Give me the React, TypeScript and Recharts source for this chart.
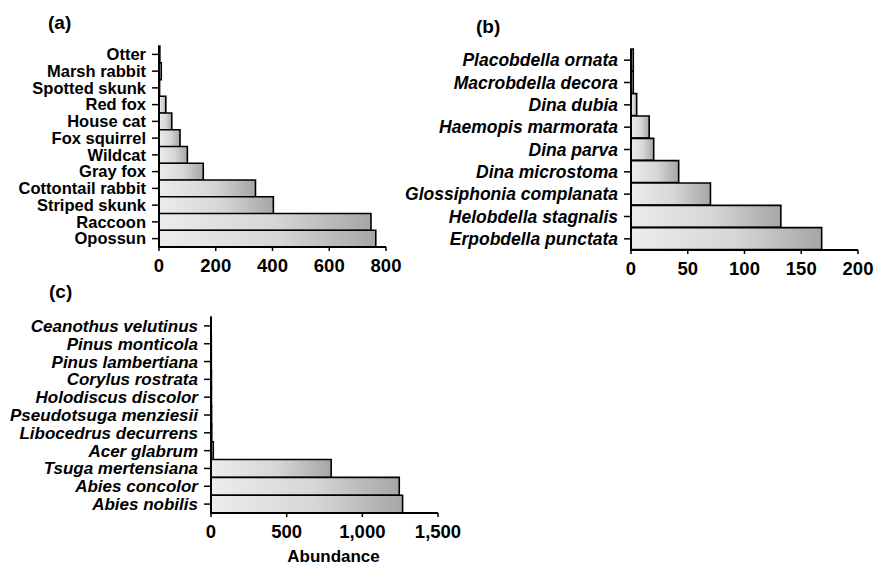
import { BarChart, Bar, XAxis, YAxis } from 'recharts';

// (a) mammals
const mammals = ['Otter', 'Marsh rabbit', 'Spotted skunk', 'Red fox', 'House cat', 'Fox squirrel', 'Wildcat', 'Gray fox', 'Cottontail rabbit', 'Striped skunk', 'Raccoon', 'Opossun'];
const mammalCounts = [3, 8, 2, 24, 45, 74, 100, 156, 340, 403, 747, 764];
const mammalTicks = [0, 200, 400, 600, 800];

// (b) leeches
const leeches = ['Placobdella ornata', 'Macrobdella decora', 'Dina dubia', 'Haemopis marmorata', 'Dina parva', 'Dina microstoma', 'Glossiphonia complanata', 'Helobdella stagnalis', 'Erpobdella punctata'];
const leechCounts = [2, 2, 5, 16, 20, 42, 70, 132, 168];
const leechTicks = [0, 50, 100, 150, 200];

// (c) trees
const trees = ['Ceanothus velutinus', 'Pinus monticola', 'Pinus lambertiana', 'Corylus rostrata', 'Holodiscus discolor', 'Pseudotsuga menziesii', 'Libocedrus decurrens', 'Acer glabrum', 'Tsuga mertensiana', 'Abies concolor', 'Abies nobilis'];
const treeCounts = [1, 2, 2, 3, 3, 4, 5, 15, 794, 1244, 1266];
const treeTicks = [0, 500, 1000, 1500];

const FONT = '"Liberation Sans", Arial, sans-serif';

const toRows = (names: string[], values: number[]) => names.map((name, i) => ({ name, value: values[i] }));

interface PanelProps {
  names: string[];
  values: number[];
  ticks: number[];
  left: number;
  top: number;
  width: number;
  height: number;
  axisWidth: number;
  margin: { top: number; right: number; bottom: number; left: number };
  italic?: boolean;
  fontSize: number;
  xHeight?: number;
  label?: string;
}

function Panel(p: PanelProps) {
  const data = toRows(p.names, p.values);
  return (
    <div style={{ position: 'absolute', left: p.left, top: p.top }}>
      <BarChart
        width={p.width}
        height={p.height}
        data={data}
        layout="vertical"
        margin={p.margin}
        barCategoryGap={0}
      >
        <XAxis
          type="number"
          domain={[p.ticks[0], p.ticks[p.ticks.length - 1]]}
          ticks={p.ticks}
          interval={0}
          height={p.xHeight ?? 30}
          tickSize={4}
          tickMargin={8}
          axisLine={{ stroke: '#000', strokeWidth: 2 }}
          tickLine={{ stroke: '#000', strokeWidth: 1.5 }}
          tick={{ fill: '#000', fontSize: 18.5, fontWeight: 700, fontFamily: FONT }}
          tickFormatter={(v: number) => v.toLocaleString('en-US')}
          label={p.label ? { value: p.label, position: 'insideBottom', offset: 1, dx: 9, fill: '#000', fontSize: 17, fontWeight: 700, fontFamily: FONT } : undefined}
        />
        <YAxis
          type="category"
          dataKey="name"
          width={p.axisWidth}
          interval={0}
          tickSize={7}
          tickMargin={6}
          axisLine={{ stroke: '#000', strokeWidth: 2 }}
          tickLine={{ stroke: '#000', strokeWidth: 1.5 }}
          tick={{ fill: '#000', fontSize: p.fontSize, fontWeight: 700, fontStyle: p.italic ? 'italic' : 'normal', fontFamily: FONT }}
        />
        <Bar dataKey="value" fill="url(#stipple)" stroke="#000" strokeWidth={1.6} isAnimationActive={false} />
      </BarChart>
    </div>
  );
}

const letterStyle = (left: number, top: number) => ({
  position: 'absolute' as const,
  left,
  top,
  fontFamily: FONT,
  fontWeight: 700,
  fontSize: 19,
  color: '#000',
  lineHeight: '20px',
});

export default function App() {
  return (
    <div style={{ position: 'absolute', left: 0, top: 0, width: 874, height: 567, background: '#fff', overflow: 'hidden' }}>
      <svg width={0} height={0} style={{ position: 'absolute' }}>
        <defs>
          <linearGradient id="stipple" x1="0" y1="0" x2="1" y2="0">
            <stop offset="0%" stopColor="#ececec" />
            <stop offset="55%" stopColor="#d6d6d6" />
            <stop offset="100%" stopColor="#a6a6a6" />
          </linearGradient>
        </defs>
      </svg>

      <div style={letterStyle(48, 13)}>(a)</div>
      <div style={letterStyle(476, 17)}>(b)</div>
      <div style={letterStyle(49, 282)}>(c)</div>

      <Panel
        names={mammals}
        values={mammalCounts}
        ticks={mammalTicks}
        left={0}
        top={0}
        width={412}
        height={280}
        axisWidth={159}
        margin={{ top: 46, right: 26, bottom: 3, left: 0 }}
        fontSize={16.5}
      />
      <Panel
        names={leeches}
        values={leechCounts}
        ticks={leechTicks}
        left={400}
        top={0}
        width={474}
        height={280}
        axisWidth={231}
        margin={{ top: 49, right: 16, bottom: 0, left: 0 }}
        fontSize={17.5}
        italic
      />
      <Panel
        names={trees}
        values={treeCounts}
        ticks={treeTicks}
        left={0}
        top={270}
        width={480}
        height={297}
        axisWidth={211}
        margin={{ top: 47, right: 42, bottom: 4, left: 0 }}
        xHeight={50}
        fontSize={17}
        italic
        label="Abundance"
      />
    </div>
  );
}
